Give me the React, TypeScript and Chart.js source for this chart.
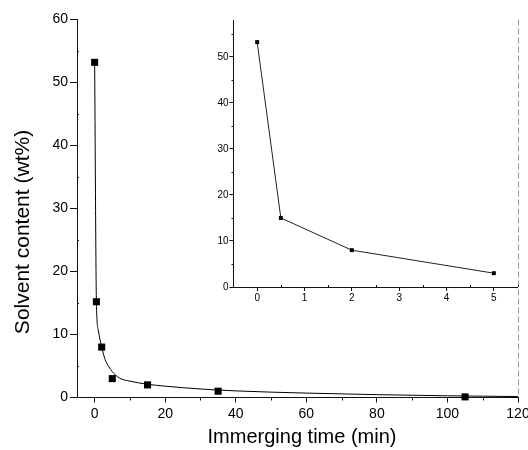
import React, { useEffect, useRef } from "react";
import { Chart, registerables } from "chart.js";
Chart.register(...registerables);

// ---- data ----
const timeMin = [0, 0.5, 2, 5, 15, 35, 105];
const solventWt = [53.2, 15.2, 8, 3, 2, 1, 0.1];

const insetTime = [0, 0.5, 2, 5];
const insetSolvent = [53.2, 15, 8, 3];

const fitTime = [0, 0.5, 1, 2, 3, 4, 5, 7, 10, 15, 20, 30, 40, 50, 60, 80, 100, 120];
const fitSolvent = [53.2, 15.2, 10.8, 8, 6, 4.9, 4.1, 3.1, 2.6, 2.1, 1.8, 1.35, 1.05, 0.85, 0.7, 0.45, 0.27, 0.15];

const mainXTicks = [0, 20, 40, 60, 80, 100, 120];
const mainYTicks = [0, 10, 20, 30, 40, 50, 60];
const mainXMinor = [10, 30, 50, 70, 90, 110];
const mainYMinor = [5, 15, 25, 35, 45, 55];

const insetXTicks = [0, 1, 2, 3, 4, 5];
const insetYTicks = [0, 10, 20, 30, 40, 50];
const insetXMinor = [0.5, 1.5, 2.5, 3.5, 4.5, 5.5];
const insetYMinor = [5, 15, 25, 35, 45, 55];

const xTitle = "Immerging time (min)";
const yTitle = "Solvent content (wt%)";

const FONT = "'Liberation Sans', Arial, Helvetica, sans-serif";

function minorTicks(xMinor: number[], yMinor: number[], xLen: number, yLen: number) {
  return {
    id: "minorTicks",
    afterDraw(chart: any) {
      const ctx = chart.ctx;
      const xs = chart.scales.x;
      const ys = chart.scales.y;
      const a = chart.chartArea;
      ctx.save();
      ctx.strokeStyle = "#111";
      ctx.lineWidth = 1;
      ctx.beginPath();
      xMinor.forEach((v) => {
        const px = Math.round(xs.getPixelForValue(v)) + 0.5;
        ctx.moveTo(px, a.bottom);
        ctx.lineTo(px, a.bottom + xLen);
      });
      yMinor.forEach((v) => {
        const py = Math.round(ys.getPixelForValue(v)) + 0.5;
        ctx.moveTo(a.left, py);
        ctx.lineTo(a.left - yLen, py);
      });
      ctx.stroke();
      ctx.restore();
    },
  };
}

const mainDecor = {
  id: "mainDecor",
  afterDraw(chart: any) {
    const ctx = chart.ctx;
    const a = chart.chartArea;
    ctx.save();
    // faint right frame
    ctx.strokeStyle = "#999";
    ctx.lineWidth = 1;
    ctx.setLineDash([6, 3]);
    ctx.beginPath();
    ctx.moveTo(Math.round(a.right) + 0.5, a.top);
    ctx.lineTo(Math.round(a.right) + 0.5, a.bottom);
    ctx.stroke();
    ctx.setLineDash([]);
    // axis titles
    ctx.fillStyle = "#000";
    ctx.textAlign = "center";
    ctx.textBaseline = "middle";
    ctx.font = `20px ${FONT}`;
    ctx.fillText(xTitle, 302, 437);
    ctx.translate(23, 232);
    ctx.rotate(-Math.PI / 2);
    ctx.font = `21px ${FONT}`;
    ctx.fillText(yTitle, 0, 0);
    ctx.restore();
  },
};

function toPoints(xs: number[], ys: number[]) {
  return xs.map((x, i) => ({ x, y: ys[i] }));
}

export default function App() {
  const mainRef = useRef<HTMLCanvasElement>(null);
  const insetRef = useRef<HTMLCanvasElement>(null);

  useEffect(() => {
    Chart.defaults.font.family = FONT;
    Chart.defaults.color = "#000";

    const main = new Chart(mainRef.current!, {
      type: "line",
      data: {
        datasets: [
          {
            data: toPoints(fitTime, fitSolvent),
            borderColor: "#000",
            borderWidth: 1,
            pointRadius: 0,
            cubicInterpolationMode: "monotone",
            fill: false,
            clip: false,
          },
          {
            data: toPoints(timeMin, solventWt),
            showLine: false,
            pointStyle: "rect",
            pointRadius: 5,
            backgroundColor: "#000",
            borderColor: "#000",
            borderWidth: 0,
            clip: false,
          },
        ],
      },
      options: {
        responsive: false,
        animation: false,
        events: [],
        layout: { padding: { left: 0, top: 19.5, right: 10, bottom: 0 } },
        plugins: { legend: { display: false }, tooltip: { enabled: false }, title: { display: false } },
        scales: {
          x: {
            type: "linear",
            min: -5,
            max: 120,
            afterBuildTicks: (s: any) => {
              s.ticks = mainXTicks.map((v) => ({ value: v }));
            },
            afterFit: (s: any) => {
              s.height = 52.5;
              s.paddingLeft = 0;
              s.paddingRight = 0;
            },
            grid: { drawOnChartArea: false, drawTicks: true, tickLength: 5, tickColor: "#111" },
            border: { display: true, color: "#111", width: 1 },
            ticks: { font: { size: 14 }, padding: 3, maxRotation: 0, autoSkip: false, color: "#000" },
          },
          y: {
            type: "linear",
            min: 0,
            max: 60,
            afterBuildTicks: (s: any) => {
              s.ticks = mainYTicks.map((v) => ({ value: v }));
            },
            afterFit: (s: any) => {
              s.width = 77;
              s.paddingTop = 0;
              s.paddingBottom = 0;
            },
            grid: { drawOnChartArea: false, drawTicks: true, tickLength: 7, tickColor: "#111" },
            border: { display: true, color: "#111", width: 1 },
            ticks: { font: { size: 14 }, padding: 2, autoSkip: false, color: "#000" },
          },
        },
      },
      plugins: [minorTicks(mainXMinor, mainYMinor, 3, -2), mainDecor],
    } as any);

    const inset = new Chart(insetRef.current!, {
      type: "line",
      data: {
        datasets: [
          {
            data: toPoints(insetTime, insetSolvent),
            borderColor: "#222",
            borderWidth: 1,
            tension: 0,
            pointStyle: "rect",
            pointRadius: 2.8,
            backgroundColor: "#000",
            pointBorderWidth: 0,
            fill: false,
            clip: false,
          },
        ],
      },
      options: {
        responsive: false,
        animation: false,
        events: [],
        layout: { padding: { left: 0, top: 20, right: 10.5, bottom: 0 } },
        plugins: { legend: { display: false }, tooltip: { enabled: false }, title: { display: false } },
        scales: {
          x: {
            type: "linear",
            min: -0.5,
            max: 5.5,
            afterBuildTicks: (s: any) => {
              s.ticks = insetXTicks.map((v) => ({ value: v }));
            },
            afterFit: (s: any) => {
              s.height = 163;
              s.paddingLeft = 0;
              s.paddingRight = 0;
            },
            grid: { drawOnChartArea: false, drawTicks: true, tickLength: 4, tickColor: "#111" },
            border: { display: true, color: "#111", width: 1 },
            ticks: { font: { size: 10 }, padding: 1, maxRotation: 0, autoSkip: false, color: "#000" },
          },
          y: {
            type: "linear",
            min: 0,
            max: 58,
            afterBuildTicks: (s: any) => {
              s.ticks = insetYTicks.map((v) => ({ value: v }));
            },
            afterFit: (s: any) => {
              s.width = 233.5;
              s.paddingTop = 0;
              s.paddingBottom = 0;
            },
            grid: { drawOnChartArea: false, drawTicks: true, tickLength: 4, tickColor: "#111" },
            border: { display: true, color: "#111", width: 1 },
            ticks: { font: { size: 10 }, padding: 1, autoSkip: false, color: "#000" },
          },
        },
      },
      plugins: [minorTicks(insetXMinor, insetYMinor, -2, 2)],
    } as any);

    return () => {
      main.destroy();
      inset.destroy();
    };
  }, []);

  return (
    <div style={{ position: "fixed", left: 0, top: 0, width: 528, height: 450, background: "#fff" }}>
      <canvas ref={mainRef} width={528} height={450} style={{ position: "absolute", left: 0, top: 0 }} />
      <canvas ref={insetRef} width={528} height={450} style={{ position: "absolute", left: 0, top: 0 }} />
    </div>
  );
}
